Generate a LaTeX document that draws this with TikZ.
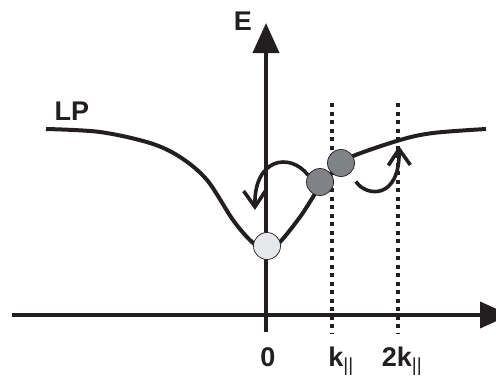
\documentclass[tikz,border=0pt]{standalone}
\usepackage{fontspec}
\setmainfont{Liberation Sans}
\usetikzlibrary{arrows.meta}
\definecolor{lpblack}{HTML}{231F20}
\definecolor{lplight}{HTML}{E6E7E8}
\definecolor{lpdark}{HTML}{808285}
\tikzset{
  axis/.style={draw=lpblack,line width=4pt,-{Triangle[length=30pt,width=26pt]}},
  branch/.style={draw=lpblack,line width=4pt},
  guide/.style={draw=lpblack,line width=3.6pt,dash pattern=on 4pt off 4.5pt},
  hop/.style={draw=lpblack,line width=3.6pt,-{Straight Barb[length=16pt,width=22pt]}},
  polariton/.style={circle,draw=lpblack,line width=0.7pt,minimum size=27pt,inner sep=0pt},
  label/.style={font=\fontsize{27}{32}\selectfont\bfseries,text=lpblack}
}
\begin{document}
\begin{tikzpicture}[x=1pt,y=-1pt]
  \useasboundingbox (0,0) rectangle (496,378);
  % axes
  \coordinate (xl) at (12,315);
  \coordinate (xr) at (510,315);
  \coordinate (yb) at (266,332);
  \coordinate (yt) at (266,23);
  \draw[axis] (xl) -- (xr);
  \draw[axis] (yb) -- (yt);
  % k and 2k markers
  \coordinate (k1t) at (332,103);
  \coordinate (k1b) at (332,334);
  \coordinate (k2t) at (398,103);
  \coordinate (k2b) at (398,334);
  \draw[guide] (k1t) -- (k1b);
  \draw[guide] (k2t) -- (k2b);
  % lower polariton branch
  \draw[branch] plot[smooth,tension=0.55] coordinates {
    (46,129) (100,132) (150,143) (180,157) (207,180) (233,220) (252,242)
    (267,251) (280,242) (300,217) (313,197) (322,183) (342,164)
    (353,156) (400,140) (433,133) (486,129)};
  % polaritons
  \node[polariton,fill=lpdark] (pA) at (320,182) {};
  \node[polariton,fill=lpdark] (pB) at (341,163) {};
  \node[polariton,fill=lplight] (p0) at (267,246) {};
  % scattering
  \coordinate (landA) at (255,210);
  \coordinate (landB) at (399,146);
  \draw[hop] (pA.150) .. controls (290,152) and (254,158) .. (landA);
  \draw[hop,shorten <=10pt] (pB.-47) .. controls (366,197) and (400,200) .. (landB);
  % labels
  \node[label] (lE) at (243,21) {E};
  \node[label] (lLP) at (72,111) {LP};
  \node[label,anchor=base] (l0) at (268,366) {0};
  \node[label,anchor=base] (lk) at (341,366) {k\textsubscript{\normalfont||}};
  \node[label,anchor=base] (l2k) at (402,366) {2k\textsubscript{\normalfont||}};
\end{tikzpicture}
\end{document}
